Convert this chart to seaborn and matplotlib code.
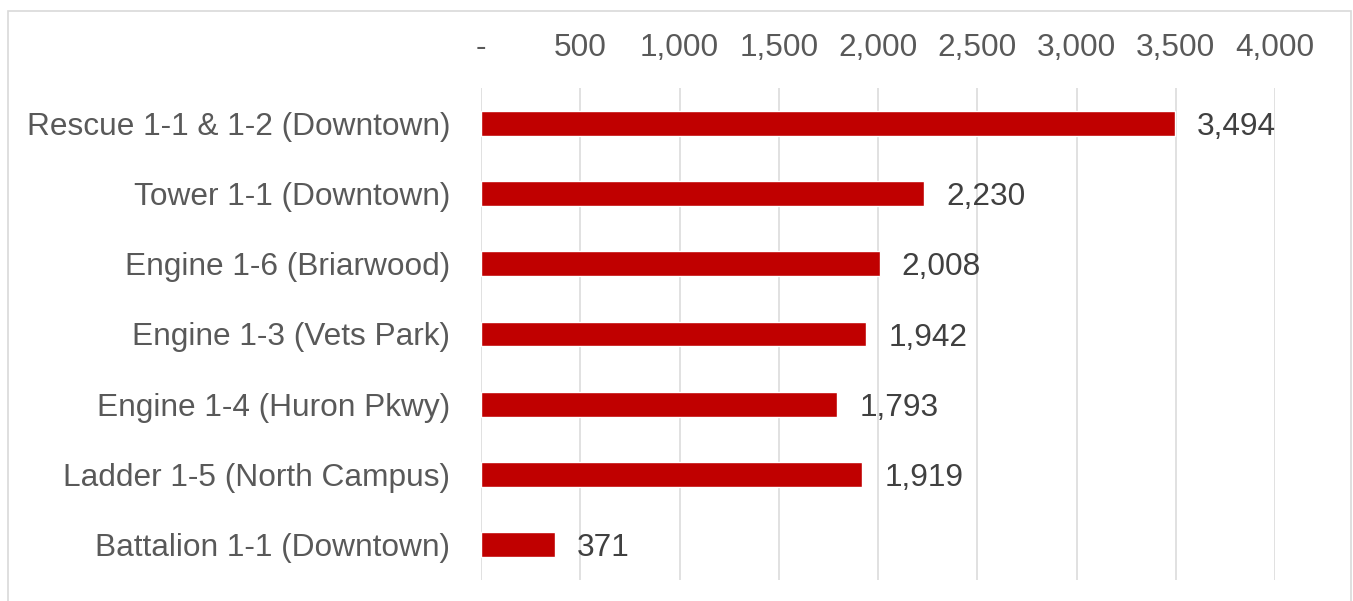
import pandas as pd
import matplotlib
matplotlib.use("Agg")
import matplotlib.pyplot as plt
from matplotlib.ticker import FuncFormatter, MultipleLocator
from matplotlib.patches import Rectangle
import seaborn as sns

# data
units = [
    "Rescue 1-1 & 1-2 (Downtown)",
    "Tower 1-1 (Downtown)",
    "Engine 1-6 (Briarwood)",
    "Engine 1-3 (Vets Park)",
    "Engine 1-4 (Huron Pkwy)",
    "Ladder 1-5 (North Campus)",
    "Battalion 1-1 (Downtown)",
]
responses = [3494, 2230, 2008, 1942, 1793, 1919, 371]

BAR_RED = "#C00000"
GRID_GREY = "#D9D9D9"
TICK_GREY = "#595959"
LABEL_GREY = "#404040"
FS = 22.8

sns.set_theme(style="white")
plt.rcParams["font.family"] = ["Liberation Sans", "DejaVu Sans"]

df = pd.DataFrame({"unit": units, "count": responses})

fig = plt.figure(figsize=(13.53, 6.01), dpi=100)
ax = fig.add_axes([481 / 1353, 1 - 580 / 601, (1275 - 481) / 1353, (580 - 88) / 601])

sns.barplot(data=df, x="count", y="unit", orient="h", color=BAR_RED,
            saturation=1, width=0.355, ax=ax, zorder=3)

ax.set_xlim(0, 4000)
ax.xaxis.set_major_locator(MultipleLocator(500))
ax.xaxis.set_major_formatter(FuncFormatter(lambda v, p: "-" if v == 0 else f"{int(v):,}"))
ax.xaxis.tick_top()
ax.grid(axis="x", color=GRID_GREY, linewidth=1.1, zorder=0)
ax.grid(axis="y", visible=False)
ax.set_axisbelow(True)
ax.set_xlabel("")
ax.set_ylabel("")
for s in ax.spines.values():
    s.set_visible(False)

ax.tick_params(axis="x", length=0, pad=18.3, labelsize=FS, labelcolor=TICK_GREY)
ax.tick_params(axis="y", length=0, pad=22, labelsize=FS, labelcolor=TICK_GREY)

for c in ax.containers:
    txts = ax.bar_label(c, labels=[f"{v:,}" for v in responses], padding=16,
                        fontsize=FS, color=LABEL_GREY)
    for t in txts:
        t.set_va("center_baseline")

# light frame around the chart area
fig.patches.append(Rectangle((8 / 1353, -0.05), (1351 - 8) / 1353, 1 - 11 / 601 + 0.05,
                             transform=fig.transFigure, fill=False,
                             edgecolor=GRID_GREY, linewidth=1.2))

fig.savefig("out.png", dpi=100)
